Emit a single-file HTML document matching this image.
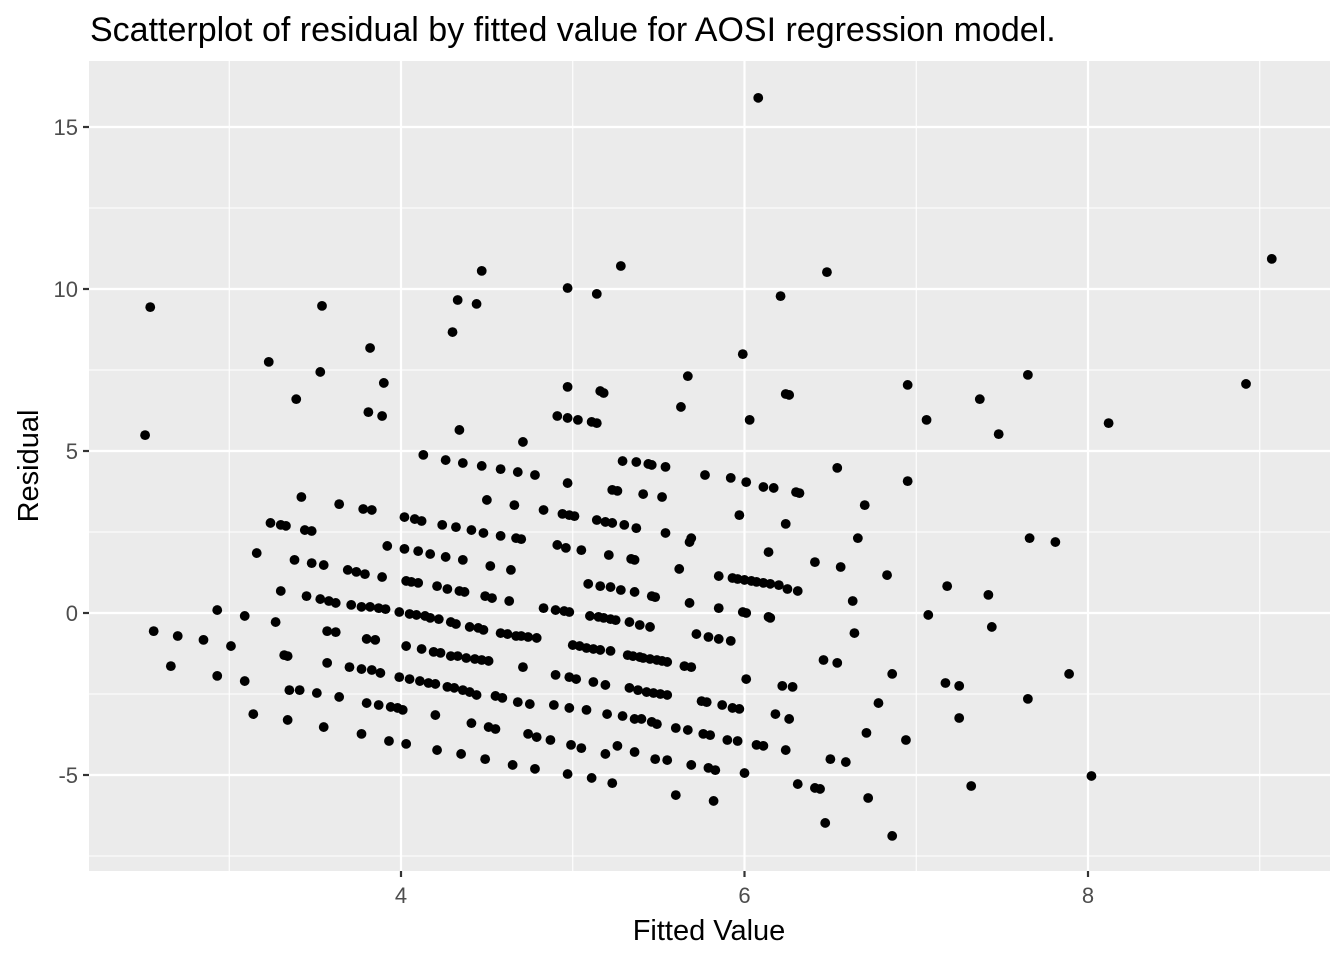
<!DOCTYPE html>
<html><head><meta charset="utf-8"><style>
html,body{margin:0;padding:0;background:#fff;}
svg{display:block;font-family:"Liberation Sans",Arial,sans-serif;}
</style></head><body>
<svg id="chart" width="1344" height="960">
<text x="90" y="41" font-size="34" fill="#000">Scatterplot of residual by fitted value for AOSI regression model.</text>
<rect x="89" y="61" width="1241" height="810" fill="#ebebeb"/>
<g id="grid"></g><g id="pts"></g><g id="axes"></g>
<text x="709" y="940" font-size="29" text-anchor="middle" fill="#000">Fitted Value</text>
<text transform="translate(38,466) rotate(-90)" font-size="29" text-anchor="middle" fill="#000">Residual</text>
</svg>
<script>
const xTicks=[4,6,8];
const xMinor=[3,5,7,9];
const yTicks=[-5,0,5,10,15];
const yMinor=[-7.5,-2.5,2.5,7.5,12.5];
const fitted=[6.08,9.07,6.48,5.28,4.47,4.97,5.14,6.21,2.54,3.54,4.33,4.44,4.30,3.82,5.99,3.23,3.53,3.90,5.67,7.65,8.92,4.97,6.95,3.39,7.37,5.16,5.18,6.24,6.26,3.81,3.89,4.91,4.97,5.03,5.11,5.14,5.63,6.03,7.06,8.12,2.51,7.48,4.34,4.71,
4.13,4.26,4.36,4.47,4.58,4.68,4.78,4.97,5.29,5.37,5.44,5.46,5.54,5.77,5.92,6.01,6.11,6.17,6.54,6.95,3.42,4.50,4.66,5.23,5.26,5.41,5.52,6.30,6.32,3.64,3.78,3.83,4.83,4.94,4.98,5.01,5.14,6.70,
3.24,3.30,3.33,3.44,3.48,4.02,4.08,4.12,4.24,4.32,4.41,4.48,4.58,4.67,4.70,5.19,5.23,5.30,5.37,5.54,5.69,5.97,6.24,3.92,4.02,4.10,4.17,4.26,4.36,4.52,4.64,4.91,4.96,5.05,5.21,5.34,5.36,5.62,6.14,3.16,5.68,6.66,7.66,7.81,
3.38,3.48,3.55,3.69,3.74,3.79,3.89,4.03,4.06,4.10,4.21,4.27,4.34,4.37,4.49,4.53,4.63,5.09,5.16,5.22,5.28,5.36,5.46,5.48,5.85,5.93,5.96,6.00,6.04,6.07,6.11,6.15,6.20,6.25,6.31,6.41,6.56,6.83,
3.30,3.45,3.53,3.58,3.62,3.71,3.77,3.82,3.87,3.91,3.99,4.05,4.09,4.14,4.17,4.22,4.29,4.32,4.40,4.45,4.48,4.58,4.62,4.67,4.70,4.74,4.79,4.83,4.90,4.95,4.98,5.10,5.15,5.18,5.22,5.25,5.33,5.39,5.45,5.68,5.85,5.99,6.01,6.14,6.15,6.63,7.18,7.42,2.93,3.09,3.27,3.01,2.56,2.70,2.85,2.66,7.07,7.44,
3.32,3.34,3.57,3.62,3.57,3.70,3.77,3.83,3.88,3.80,3.85,4.03,4.12,4.19,4.23,4.29,4.33,4.38,4.43,4.47,4.51,4.71,5.00,5.04,5.08,5.12,5.16,5.22,5.32,5.35,5.39,5.41,5.45,5.49,5.52,5.55,5.65,5.69,5.72,5.79,5.85,5.92,6.46,6.54,6.64,6.86,7.89,7.65,
3.99,4.05,4.11,4.16,4.20,4.27,4.31,4.36,4.40,4.44,4.55,4.59,4.68,4.75,4.90,4.98,5.02,5.12,5.19,5.33,5.38,5.43,5.47,5.51,5.55,5.75,5.78,5.87,5.93,5.97,6.01,6.22,6.28,6.78,7.17,7.25,3.35,3.41,3.51,3.64,3.80,3.87,3.94,3.98,4.01,3.09,2.93,
3.14,3.34,3.55,3.77,3.93,4.03,4.20,4.41,4.51,4.55,4.74,4.79,4.87,4.89,4.98,5.08,5.20,5.29,5.36,5.40,5.46,5.49,5.60,5.67,5.76,5.80,5.90,5.96,6.07,6.11,6.18,6.26,5.79,5.69,5.83,5.26,5.36,5.48,5.55,6.31,6.41,6.44,6.50,6.59,7.25,7.32,6.94,6.24,6.00,4.99,5.05,5.19,6.71,
4.21,4.35,4.49,4.65,4.78,4.97,5.11,5.23,5.60,5.82,6.47,6.86,8.02,6.72];
const resid=[15.9,10.93,10.52,10.71,10.56,10.03,9.85,9.78,9.44,9.48,9.66,9.54,8.67,8.18,7.99,7.75,7.44,7.10,7.31,7.35,7.07,6.98,7.04,6.60,6.60,6.85,6.79,6.76,6.73,6.20,6.08,6.08,6.02,5.96,5.90,5.86,6.36,5.96,5.96,5.86,5.49,5.52,5.65,5.28,
4.88,4.72,4.63,4.54,4.44,4.35,4.26,4.01,4.69,4.66,4.60,4.57,4.51,4.26,4.17,4.04,3.89,3.86,4.48,4.07,3.58,3.49,3.33,3.80,3.77,3.67,3.58,3.73,3.70,3.36,3.21,3.18,3.18,3.06,3.02,2.99,2.87,3.33,
2.78,2.72,2.69,2.56,2.53,2.96,2.90,2.84,2.72,2.65,2.56,2.47,2.38,2.31,2.28,2.81,2.78,2.72,2.62,2.47,2.31,3.02,2.75,2.07,1.98,1.91,1.82,1.73,1.64,1.45,1.33,2.10,2.01,1.94,1.79,1.67,1.64,1.36,1.88,1.85,2.19,2.31,2.31,2.19,
1.64,1.54,1.48,1.33,1.27,1.20,1.11,0.99,0.96,0.93,0.83,0.74,0.68,0.65,0.52,0.46,0.37,0.90,0.83,0.80,0.71,0.65,0.52,0.49,1.14,1.08,1.05,1.02,0.99,0.96,0.93,0.90,0.86,0.74,0.68,1.57,1.42,1.17,
0.68,0.52,0.43,0.37,0.31,0.25,0.19,0.19,0.15,0.12,0.03,-0.03,-0.06,-0.09,-0.15,-0.19,-0.28,-0.34,-0.43,-0.46,-0.52,-0.62,-0.65,-0.71,-0.71,-0.74,-0.77,0.15,0.09,0.06,0.03,-0.09,-0.12,-0.15,-0.19,-0.22,-0.28,-0.37,-0.43,0.31,0.15,0.03,0.00,-0.12,-0.15,0.37,0.83,0.56,0.09,-0.09,-0.28,-1.02,-0.56,-0.71,-0.83,-1.64,-0.06,-0.43,
-1.30,-1.33,-0.56,-0.59,-1.54,-1.67,-1.73,-1.76,-1.85,-0.80,-0.83,-1.02,-1.11,-1.20,-1.23,-1.33,-1.33,-1.39,-1.42,-1.45,-1.48,-1.67,-0.99,-1.02,-1.08,-1.11,-1.14,-1.17,-1.30,-1.33,-1.36,-1.39,-1.42,-1.45,-1.48,-1.51,-1.64,-1.67,-0.65,-0.74,-0.80,-0.86,-1.45,-1.54,-0.62,-1.88,-1.88,-2.65,
-1.98,-2.04,-2.10,-2.16,-2.19,-2.28,-2.31,-2.38,-2.44,-2.53,-2.56,-2.62,-2.75,-2.81,-1.91,-1.98,-2.04,-2.13,-2.22,-2.31,-2.38,-2.44,-2.47,-2.50,-2.53,-2.72,-2.75,-2.84,-2.93,-2.96,-2.04,-2.25,-2.28,-2.78,-2.16,-2.25,-2.38,-2.38,-2.47,-2.59,-2.78,-2.84,-2.90,-2.93,-2.99,-2.10,-1.94,
-3.12,-3.30,-3.52,-3.73,-3.95,-4.04,-3.15,-3.40,-3.52,-3.58,-3.73,-3.83,-3.92,-2.84,-2.93,-2.99,-3.12,-3.18,-3.27,-3.27,-3.36,-3.43,-3.55,-3.61,-3.73,-3.77,-3.92,-3.95,-4.07,-4.10,-3.12,-3.27,-4.78,-4.69,-4.85,-4.10,-4.29,-4.51,-4.54,-5.28,-5.40,-5.43,-4.51,-4.60,-3.24,-5.34,-3.92,-4.23,-4.94,-4.07,-4.17,-4.35,-3.70,
-4.23,-4.35,-4.51,-4.69,-4.81,-4.97,-5.09,-5.25,-5.62,-5.80,-6.48,-6.88,-5.03,-5.71];

const NS='http://www.w3.org/2000/svg';
const L=89,R=1330,T=61,B=871;
function sx(v){return 401+(v-4)*171.75;}
function sy(v){return 613-v*32.4;}
function mk(tag,attrs,parent){const e=document.createElementNS(NS,tag);for(const k in attrs)e.setAttribute(k,attrs[k]);parent.appendChild(e);return e;}
const grid=document.getElementById('grid'),axes=document.getElementById('axes'),pts=document.getElementById('pts');
yMinor.forEach(v=>{const l=mk('line',{x1:L,x2:R,y1:sy(v),y2:sy(v),stroke:'#fff','stroke-width':1.1},grid);

});
xMinor.forEach(v=>{const l=mk('line',{x1:sx(v),x2:sx(v),y1:T,y2:B,stroke:'#fff','stroke-width':1.1},grid);

});
yTicks.forEach(v=>{const y=sy(v);
const l=mk('line',{x1:L,x2:R,y1:y,y2:y,stroke:'#fff','stroke-width':2.2},grid);


const t=mk('line',{x1:L-6,x2:L,y1:y,y2:y,stroke:'#333','stroke-width':2.2},axes);


const tx=mk('text',{x:L-11,y:y+8,'font-size':22,'text-anchor':'end',fill:'#4d4d4d'},axes);tx.textContent=v;

});
xTicks.forEach(v=>{const x=sx(v);
const l=mk('line',{x1:x,x2:x,y1:T,y2:B,stroke:'#fff','stroke-width':2.2},grid);


const t=mk('line',{x1:x,x2:x,y1:B,y2:B+6,stroke:'#333','stroke-width':2.2},axes);


const tx=mk('text',{x:x,y:B+32,'font-size':22,'text-anchor':'middle',fill:'#4d4d4d'},axes);tx.textContent=v;

});
for(let i=0;i<fitted.length;i++){
const c=mk('circle',{cx:sx(fitted[i]),cy:sy(resid[i]),r:4.9,fill:'#000'},pts);

}
</script>
</body></html>
